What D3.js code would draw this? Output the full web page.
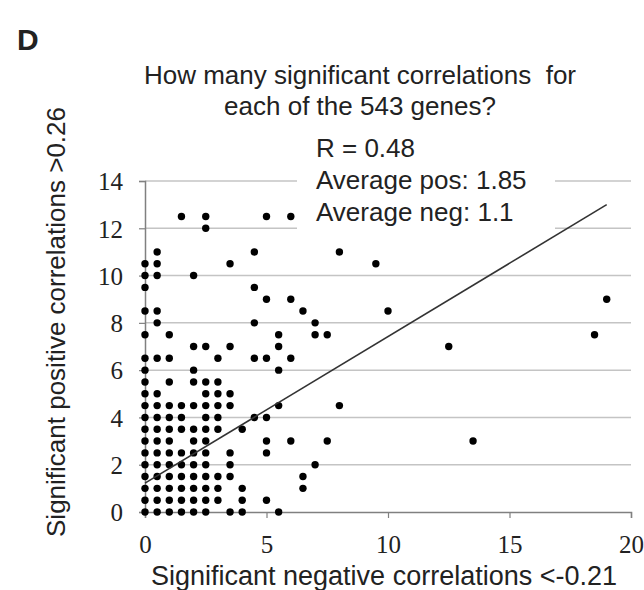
<!DOCTYPE html>
<html>
<head>
<meta charset="utf-8">
<script src="https://cdn.jsdelivr.net/npm/d3@7"></script>
<style>
  body { margin: 0; background: #fff; }
  text { fill: #222; }
</style>
</head>
<body>
<svg id="chart" width="644" height="590"></svg>
<script>
// Number of significant positive correlations (y levels) and, for each level,
// the numbers of significant negative correlations seen among the genes.
const posLevels = [0, 0.5, 1, 1.5, 2, 2.5, 3, 3.5, 4, 4.5, 5, 5.5, 6, 6.5, 7, 7.5, 8, 8.5, 9, 9.5, 10, 10.5, 11, 12, 12.5];
const negAtLevel = [
  [0, 0.5, 1, 1.5, 2, 2.5, 3.5, 4, 5.5],
  [0, 0.5, 1, 1.5, 2, 2.5, 3, 4, 5],
  [0, 0.5, 1, 1.5, 2, 2.5, 3, 4, 6.5],
  [0, 0.5, 1, 1.5, 2, 2.5, 3, 3.5, 6.5],
  [0, 0.5, 1, 1.5, 2, 2.5, 3.5, 7],
  [0, 0.5, 1, 1.5, 2, 2.5, 3.5, 5],
  [0, 0.5, 1, 2, 2.5, 5, 6, 7.5, 13.5],
  [0, 0.5, 1, 1.5, 2, 2.5, 3, 4],
  [0, 0.5, 1, 1.5, 2.5, 3, 4.5, 5],
  [0, 0.5, 1, 1.5, 2, 2.5, 3, 3.5, 5.5, 8],
  [0, 0.5, 2.5, 3, 3.5],
  [0, 1, 2, 2.5, 3],
  [0, 2, 5.5],
  [0, 0.5, 1, 3, 4.5, 5, 6],
  [2, 2.5, 3.5, 5.5, 12.5],
  [0, 1, 5.5, 7, 7.5, 18.5],
  [0.5, 4.5, 7],
  [0, 0.5, 6.5, 10],
  [5, 6, 19],
  [0, 4.5],
  [0, 0.5, 2],
  [0, 0.5, 3.5, 9.5],
  [0.5, 4.5, 8],
  [2.5],
  [1.5, 2.5, 5, 6]
];

// Linear trend line end points
const trendX = [0, 19];
const trendY = [1.22, 13.0];

const xTicks = [0, 5, 10, 15, 20];
const yTicks = [0, 2, 4, 6, 8, 10, 12, 14];

const titleLines = ["How many significant correlations  for", "each of the 543 genes?"];
const statLines = ["R = 0.48", "Average pos: 1.85", "Average neg: 1.1"];

const points = [];
posLevels.forEach((p, i) => negAtLevel[i].forEach(n => points.push({ neg: n, pos: p })));

const svg = d3.select("#chart");
const plot = { left: 145, top: 181, right: 631, bottom: 512 };

const x = d3.scaleLinear().domain([0, 20]).range([plot.left, plot.right]);
const y = d3.scaleLinear().domain([0, 14]).range([plot.bottom, plot.top]);

const sans = "'Liberation Sans', Arial, sans-serif";
const serif = "'Liberation Serif', 'Times New Roman', serif";

// Panel letter
svg.append("text").attr("x", 17).attr("y", 50)
  .style("font-family", sans).style("font-weight", "bold").style("font-size", "30px")
  .text("D");

// Title
svg.append("g").selectAll("text").data(titleLines).join("text")
  .attr("x", 360).attr("y", (d, i) => 84 + i * 31)
  .attr("text-anchor", "middle")
  .style("font-family", sans).style("font-size", "26px")
  .style("white-space", "pre")
  .text(d => d);

// Horizontal gridlines
svg.append("g")
  .selectAll("line").data(yTicks.filter(t => t > 0)).join("line")
  .attr("x1", plot.left).attr("x2", plot.right)
  .attr("y1", d => y(d)).attr("y2", d => y(d))
  .attr("stroke", "#c4c4c4").attr("stroke-width", 1.5);

// White label box behind the statistics
svg.append("rect").attr("x", 297).attr("y", 158).attr("width", 258).attr("height", 74)
  .attr("fill", "#fff");

svg.append("g").selectAll("text").data(statLines).join("text")
  .attr("x", 316).attr("y", (d, i) => 157 + i * 32)
  .style("font-family", sans).style("font-size", "26px")
  .text(d => d);

// Axes
const xAxis = d3.axisBottom(x).tickValues(xTicks).tickSize(6).tickFormat(d3.format("d"));
const yAxis = d3.axisLeft(y).tickValues(yTicks).tickSize(6).tickFormat(d3.format("d"));

const gx = svg.append("g").attr("transform", `translate(0,${plot.bottom})`).call(xAxis);
const gy = svg.append("g").attr("transform", `translate(${plot.left},0)`).call(yAxis);

[gx, gy].forEach(g => {
  g.select(".domain").attr("stroke", "#808080").attr("stroke-width", 1.5);
  g.selectAll(".tick line").attr("stroke", "#808080").attr("stroke-width", 1.2);
  g.selectAll(".tick text")
    .style("font-family", serif).style("font-size", "25px").attr("fill", "#222");
});
gx.selectAll(".tick text").attr("y", 0).attr("dy", "1.65em");
gy.selectAll(".tick text").attr("x", -22).attr("dy", "0.35em");

// Points
svg.append("g").selectAll("circle").data(points).join("circle")
  .attr("cx", d => x(d.neg)).attr("cy", d => y(d.pos)).attr("r", 3.7)
  .attr("fill", "#000");

// Trend line
svg.append("line")
  .attr("x1", x(trendX[0])).attr("y1", y(trendY[0]))
  .attr("x2", x(trendX[1])).attr("y2", y(trendY[1]))
  .attr("stroke", "#333").attr("stroke-width", 1.6);

// Axis titles
svg.append("text").attr("x", 384).attr("y", 585).attr("text-anchor", "middle")
  .style("font-family", sans).style("font-size", "27px")
  .text("Significant negative correlations <-0.21");

svg.append("text")
  .attr("transform", "translate(65,322) rotate(-90)")
  .attr("text-anchor", "middle")
  .style("font-family", sans).style("font-size", "26px")
  .text("Significant positive correlations >0.26");
</script>
</body>
</html>
